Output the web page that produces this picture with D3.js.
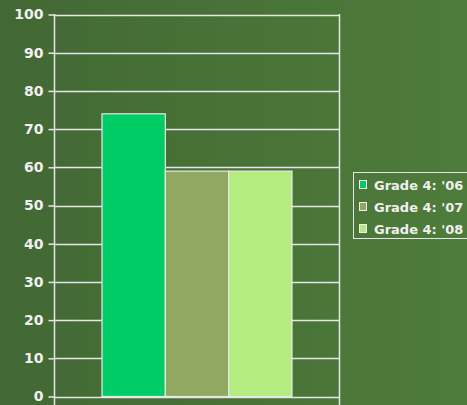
<!DOCTYPE html>
<html>
<head>
<meta charset="utf-8">
<script src="https://cdn.jsdelivr.net/npm/d3@7"></script>
<style>
  html, body { margin: 0; padding: 0; background: #466f36; overflow: hidden; }
  svg { display: block; }
</style>
</head>
<body>
<svg id="chart" width="467" height="405"></svg>
<script>
const categories = ["Grade 4"];
const seriesNames = ["Grade 4: '06", "Grade 4: '07", "Grade 4: '08"];
const seriesValues = [74, 59, 59];
const seriesColors = ["#00cc66", "#8fa962", "#b3ec7f"];
const yTicks = [0, 10, 20, 30, 40, 50, 60, 70, 80, 90, 100];

const W = 467, H = 405;
const svg = d3.select("#chart");

// background gradient
const defs = svg.append("defs");
const grad = defs.append("linearGradient").attr("id", "bg")
  .attr("x1", "0%").attr("y1", "0%").attr("x2", "100%").attr("y2", "0%");
grad.append("stop").attr("offset", "0%").attr("stop-color", "#426834");
grad.append("stop").attr("offset", "100%").attr("stop-color", "#4e7c3a");
svg.append("rect").attr("width", W).attr("height", H).attr("fill", "url(#bg)");

const plot = { left: 54.5, right: 339.5, top: 14.5, bottom: 396.5 };
const lineColor = "#e6e6e6";

const y = d3.scaleLinear().domain([0, 100]).range([plot.bottom, plot.top]);
const x0 = d3.scaleBand().domain(categories).range([plot.left, plot.right])
  .paddingInner(0).paddingOuter(0.25);
const x1 = d3.scaleBand().domain(seriesNames).range([0, x0.bandwidth()]).padding(0);

// gridlines
svg.append("g").selectAll("line").data(yTicks).join("line")
  .attr("x1", plot.left).attr("x2", plot.right)
  .attr("y1", d => Math.round(y(d)) + 0.5).attr("y2", d => Math.round(y(d)) + 0.5)
  .attr("stroke", lineColor).attr("stroke-width", 1.5);

// bars
const g = svg.append("g");
categories.forEach(c => {
  g.selectAll("rect.bar").data(seriesValues.map((v, i) => ({ v, i }))).join("rect")
    .attr("class", "bar")
    .attr("x", d => x0(c) + x1(seriesNames[d.i]))
    .attr("y", d => y(d.v))
    .attr("width", x1.bandwidth())
    .attr("height", d => y(0) - y(d.v))
    .attr("fill", d => seriesColors[d.i])
    .attr("stroke", "#e8e8e8").attr("stroke-width", 1.2);
});

// y axis
const yAxis = d3.axisLeft(y).tickValues(yTicks).tickSize(6).tickPadding(6);
const ax = svg.append("g").attr("transform", `translate(${plot.left},0)`).call(yAxis);
ax.select(".domain").remove();
ax.selectAll(".tick line").attr("stroke", lineColor).attr("stroke-width", 1.5);
ax.selectAll(".tick text")
  .attr("fill", "#f0f0f0")
  .attr("font-family", "'DejaVu Sans', sans-serif")
  .attr("font-weight", "bold")
  .attr("font-size", 14)
  .attr("x", -11);

// frame verticals
svg.append("line").attr("x1", plot.left).attr("x2", plot.left)
  .attr("y1", plot.top - 0.5).attr("y2", H).attr("stroke", lineColor).attr("stroke-width", 1.5);
svg.append("line").attr("x1", plot.right).attr("x2", plot.right)
  .attr("y1", plot.top - 0.5).attr("y2", H).attr("stroke", lineColor).attr("stroke-width", 1.5);

// legend
const leg = svg.append("g");
leg.append("rect").attr("x", 353.5).attr("y", 172.5).attr("width", 130).attr("height", 66)
  .attr("fill", "none").attr("stroke", lineColor).attr("stroke-width", 1);
const items = leg.selectAll("g.item").data(seriesNames).join("g")
  .attr("class", "item")
  .attr("transform", (d, i) => `translate(0, ${185 + i * 22})`);
items.append("rect").attr("x", 359.5).attr("y", -4.5).attr("width", 7).attr("height", 8)
  .attr("fill", (d, i) => seriesColors[i]).attr("stroke", "#f0f0f0").attr("stroke-width", 1);
items.append("text").attr("x", 374).attr("y", 0).attr("dy", "0.36em")
  .attr("fill", "#f0f0f0")
  .attr("font-family", "'DejaVu Sans', sans-serif")
  .attr("font-weight", "bold")
  .attr("font-size", 13)
  .text(d => d);
</script>
</body>
</html>
